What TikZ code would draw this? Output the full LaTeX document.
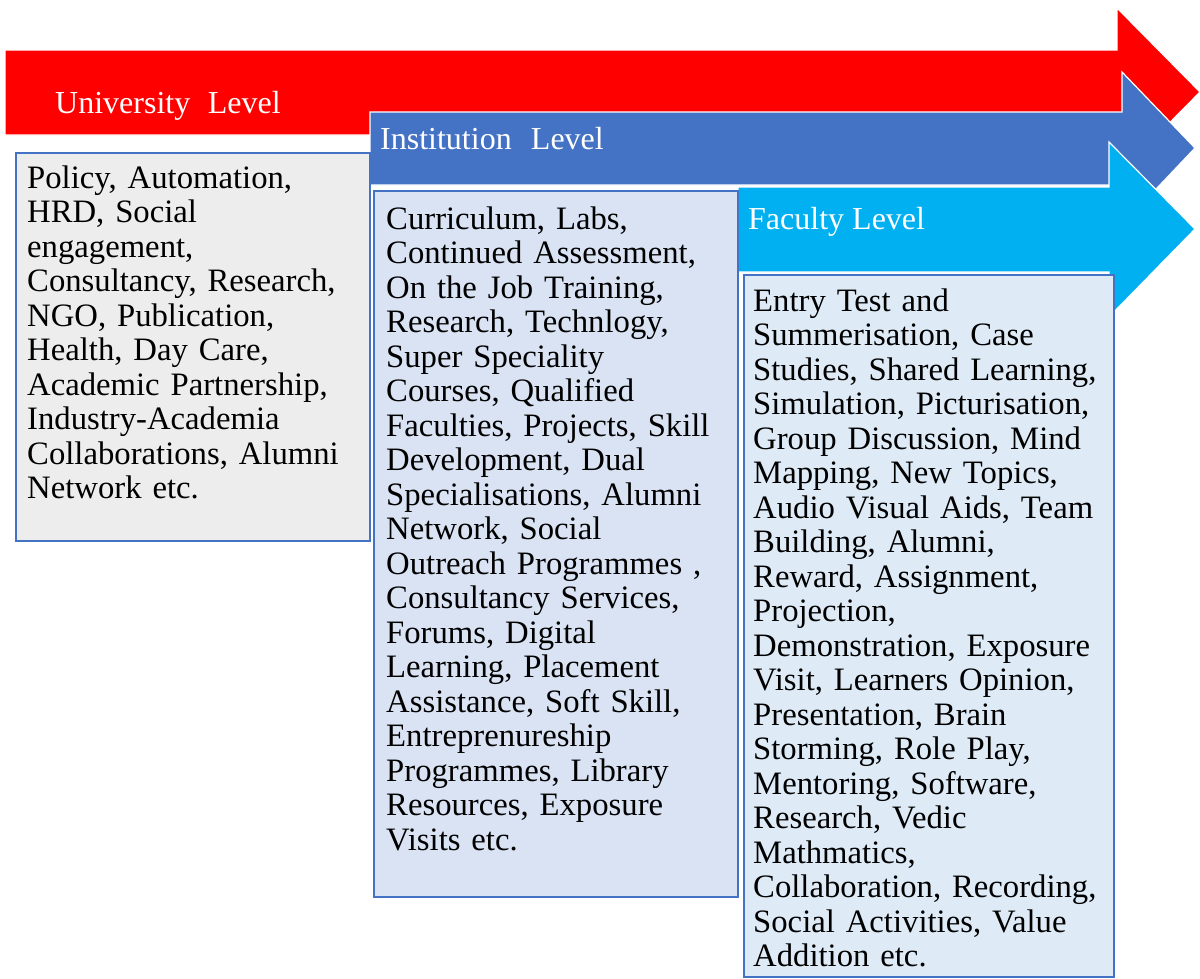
\documentclass[tikz,border=0pt]{standalone}
\usepackage{fontspec}
\setmainfont{Liberation Serif}
\definecolor{arrRed}{HTML}{FF0000}
\definecolor{arrBlue}{HTML}{4472C4}
\definecolor{arrCyan}{HTML}{00B0F0}
\definecolor{boxLine}{HTML}{4472C4}
\definecolor{uFill}{HTML}{EDEDED}
\definecolor{iFill}{HTML}{DAE3F3}
\definecolor{fFill}{HTML}{DEEBF7}
\tikzset{
  levelarrow/.style={draw=white, line width=1.2pt, line join=miter},
  boxnode/.style={draw=boxLine, line width=2.2pt, inner sep=0pt, anchor=north west},
  bodytext/.style={font=\fontsize{32.7}{34.5}\selectfont, text width=420pt, align=left, inner sep=0pt, anchor=base west, text=black},
  headtext/.style={font=\fontsize{32}{36}\selectfont, inner sep=0pt, anchor=base west, text=white}
}
\begin{document}
\begin{tikzpicture}[x=1pt,y=-1pt]
\useasboundingbox (0,0) rectangle (1200,978);
\fill[white] (0,0) rectangle (1200,978);

% arrows
\filldraw[levelarrow, fill=arrRed] (5,50) -- (1117,50) -- (1117,8) -- (1200,92) -- (1117,176) -- (1117,135) -- (5,135) -- cycle;
\filldraw[levelarrow, fill=arrBlue] (370,112) -- (1122,112) -- (1122,72) -- (1195,148) -- (1122,225) -- (1122,185) -- (370,185) -- cycle;
\filldraw[levelarrow, fill=arrCyan] (738,187) -- (1109,187) -- (1109,142) -- (1195,229) -- (1109,317) -- (1109,272) -- (738,272) -- cycle;

% arrow labels
\node[headtext] (ulabel) at (55,113) {University\hspace{0.55em}Level};
\node[headtext] (ilabel) at (380,149) {Institution\hspace{0.6em}Level};
\node[headtext] (flabel) at (748,229) {Faculty Level};

% boxes
\node[boxnode, fill=uFill, minimum width=354, minimum height=388] (ubox) at (15,152) {};
\node[boxnode, fill=iFill, minimum width=364, minimum height=706] (ibox) at (373,190) {};
\node[boxnode, fill=fFill, minimum width=370, minimum height=702] (fbox) at (743,274) {};

% box texts
\node[bodytext] (utext) at (27,188) {Policy, Automation,\\
HRD, Social\\
engagement,\\
Consultancy, Research,\\
NGO, Publication,\\
Health, Day Care,\\
Academic Partnership,\\
Industry-Academia\\
Collaborations, Alumni\\
Network etc.};

\node[bodytext] (itext) at (386,229) {Curriculum, Labs,\\
Continued Assessment,\\
On the Job Training,\\
Research, Technlogy,\\
Super Speciality\\
Courses, Qualified\\
Faculties, Projects, Skill\\
Development, Dual\\
Specialisations, Alumni\\
Network, Social\\
Outreach Programmes ,\\
Consultancy Services,\\
Forums, Digital\\
Learning, Placement\\
Assistance, Soft Skill,\\
Entreprenureship\\
Programmes, Library\\
Resources, Exposure\\
Visits etc.};

\node[bodytext] (ftext) at (753,311) {Entry Test and\\
Summerisation, Case\\
Studies, Shared Learning,\\
Simulation, Picturisation,\\
Group Discussion, Mind\\
Mapping, New Topics,\\
Audio Visual Aids, Team\\
Building, Alumni,\\
Reward, Assignment,\\
Projection,\\
Demonstration, Exposure\\
Visit, Learners Opinion,\\
Presentation, Brain\\
Storming, Role Play,\\
Mentoring, Software,\\
Research, Vedic\\
Mathmatics,\\
Collaboration, Recording,\\
Social Activities, Value\\
Addition etc.};
\end{tikzpicture}
\end{document}
